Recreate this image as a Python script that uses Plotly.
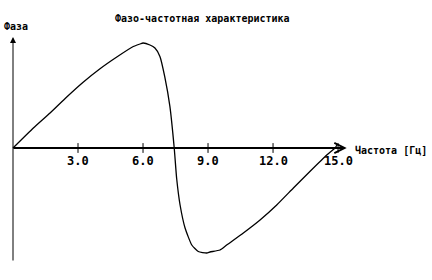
import plotly.graph_objects as go

# Data (frequency in Hz, phase in arbitrary units)
freq = [0.0, 0.94, 1.71, 2.48, 3.25, 4.0, 4.79, 5.55, 5.86, 6.0, 6.32, 6.55, 6.78,
        7.0, 7.24, 7.44, 7.55, 7.71, 7.94, 8.25, 8.55, 8.94, 9.09, 9.55, 9.86,
        10.63, 11.4, 12.17, 12.94, 13.7, 14.48, 14.86, 14.95]
phase = [0, 20, 35, 51, 66, 79, 91, 101.5, 104, 105, 103, 100, 91.6,
         71.6, 41.6, 0, -30, -57, -80, -97, -103.5, -105, -104, -102, -97,
         -85, -72, -57, -40, -23.5, -7, 0, 3]

tick_vals = [3, 6, 9, 12, 15]
tick_text = ["3.0", "6.0", "9.0", "12.0", "15.0"]

title_text = "Фазо-частотная характеристика"
y_label = "Фаза"
x_label = "Частота [Гц]"

FONT = "DejaVu Sans Mono"

fig = go.Figure()

# axes drawn as arrows
fig.add_annotation(x=15.4, y=0, ax=-0.05, ay=0, xref="x", yref="y", axref="x", ayref="y",
                   showarrow=True, arrowhead=5, arrowsize=1.0, arrowwidth=2,
                   arrowcolor="black", text="")
fig.add_annotation(x=0, y=111, ax=0, ay=-114, xref="x", yref="y", axref="x", ayref="y",
                   showarrow=True, arrowhead=2, arrowsize=1.2, arrowwidth=1,
                   arrowcolor="black", text="")

# tick marks
fig.add_trace(go.Scatter(x=tick_vals, y=[0] * len(tick_vals), mode="markers",
                         marker=dict(symbol="line-ns", size=7,
                                     line=dict(width=1, color="black")),
                         hoverinfo="skip", showlegend=False))

# curve
fig.add_trace(go.Scatter(x=freq, y=phase, mode="lines",
                         line=dict(color="black", width=1.3, shape="spline", smoothing=0.5),
                         showlegend=False))

# tick labels
for v, t in zip(tick_vals, tick_text):
    fig.add_annotation(x=v, y=-13, xref="x", yref="y", text="<b>%s</b>" % t, showarrow=False,
                       xanchor="center", yanchor="middle",
                       font=dict(family=FONT, size=12, color="black"))

def label(text, xpx, ypx):
    fig.add_annotation(x=xpx / 432, y=1 - ypx / 280, xref="paper", yref="paper",
                       text="<b>%s</b>" % text, showarrow=False,
                       xanchor="center", yanchor="middle",
                       font=dict(family=FONT, size=10, color="black"))

label(title_text, 202, 18)
label(y_label, 16, 27)
label(x_label, 391, 150)

px_per_unit = 21.67
x0 = 13
fig.update_layout(
    width=432, height=280, margin=dict(l=0, r=0, t=0, b=0),
    paper_bgcolor="white", plot_bgcolor="white",
    xaxis=dict(range=[-x0 / px_per_unit, (432 - x0) / px_per_unit], visible=False),
    yaxis=dict(range=[-132, 148], visible=False),
    showlegend=False,
)

fig.write_html("out.html")
